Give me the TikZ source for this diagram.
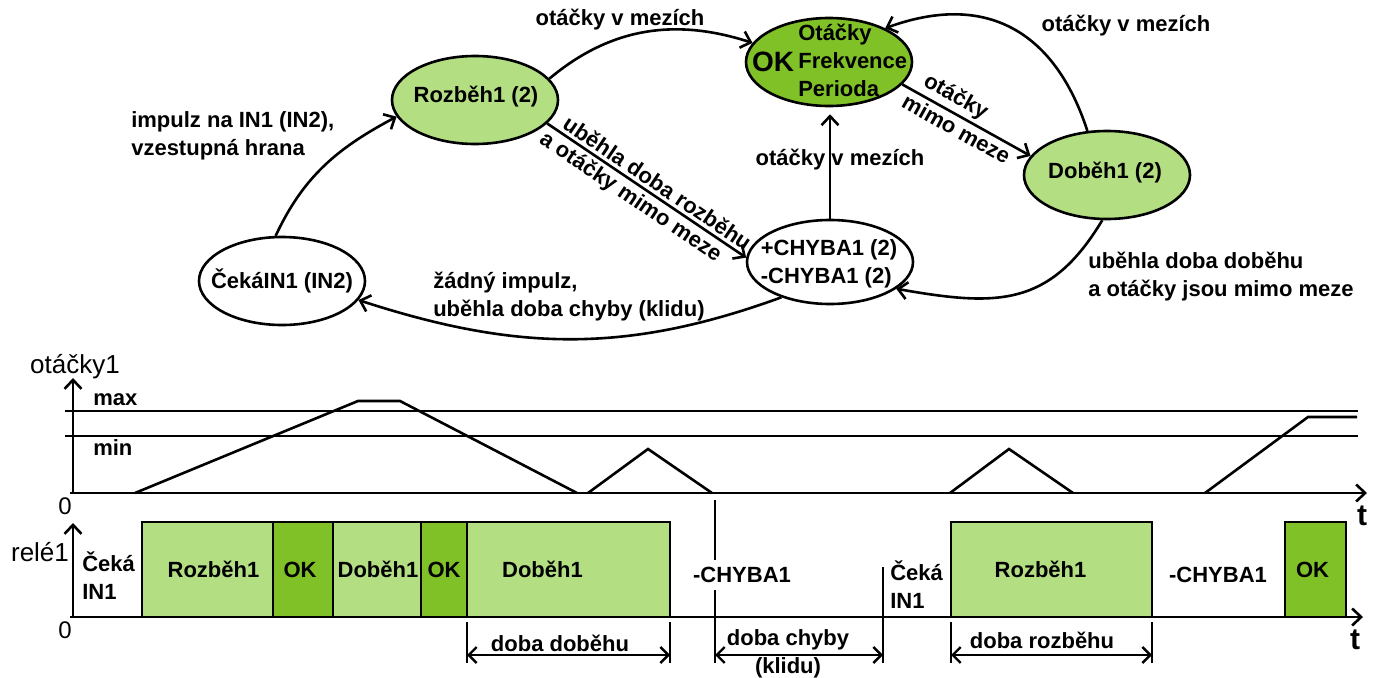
\documentclass[tikz,border=0pt]{standalone}
\usepackage{fontspec}
\setmainfont{Liberation Sans}
\usetikzlibrary{positioning,shapes.geometric,arrows.meta}
\definecolor{lgreen}{RGB}{180,222,130}
\definecolor{dgreen}{RGB}{128,193,40}
\tikzset{
  state/.style={ellipse,draw,line width=2.6pt,minimum width=166pt,minimum height=88pt,inner sep=0pt},
  arr/.style={line width=2.6pt,-{Straight Barb[length=9pt,width=17pt]}},
  dimarr/.style={line width=2.4pt,{Straight Barb[length=8pt,width=16pt]}-{Straight Barb[length=8pt,width=16pt]}},
  txt/.style={font=\fontsize{22}{28}\selectfont\bfseries,inner sep=0pt,align=left},
  axlbl/.style={font=\fontsize{26}{28}\selectfont,inner sep=0pt},
}

\begin{document}
\begin{tikzpicture}[x=1pt,y=1pt,line width=2.6pt]
  \useasboundingbox (0,0) rectangle (1383,-677);

  % States
  \node[state] (cek) at (282,-281) {};
  \node[state,fill=lgreen] (roz) at (475,-100) {};
  \node[state,fill=dgreen] (ok) at (829,-62) {};
  \node[state,minimum height=84pt] (chy) at (830,-262) {};
  \node[state,fill=lgreen] (dob) at (1107,-175) {};
  \node[txt] (cekt) at (cek) {ČekáIN1 (IN2)};
  \node[txt] (rozt) at (476,-97) {Rozběh1 (2)};
  \node[txt,font=\fontsize{28}{30}\selectfont\bfseries] (okt) at (773,-62) {OK};
  \node[txt,anchor=west] (okinfo) at (797,-60) {Otáčky\\Frekvence\\Perioda};
  \node[txt] (chyt) at (829,-264) {+CHYBA1 (2)\\-CHYBA1 (2)};
  \node[txt] (dobt) at (1105,-173) {Doběh1 (2)};

  % Transitions
  \draw[arr] (cek.98) to[out=65,in=208] (roz.192);
  \draw[arr] (roz.16) to[out=40,in=162] (ok.166);
  \draw[arr] (roz.342) --
    node[txt,sloped,above=3pt,pos=0.52] (l3a) {uběhla doba rozběhu}
    node[txt,sloped,below=3pt,pos=0.46] (l3b) {a otáčky mimo meze}
    (chy.177);
  \draw[arr,shorten >=7pt] (chy.north) -- (chy.north |- ok.south);
  \draw[arr] (ok.343) --
    node[txt,sloped,above=3pt,pos=0.36] (l5a) {otáčky}
    node[txt,sloped,below=3pt,pos=0.47] (l5b) {mimo meze}
    (dob.166);
  \draw[arr] (dob.114) to[out=108,in=20,looseness=1.2] (ok.31);
  \draw[arr] (dob.264) to[out=239,in=350,looseness=1.2] (chy.338);
  \draw[arr] (chy.216) to[out=200,in=342] (cek.346);

  % Transition labels
  \node[txt,anchor=west] (l1) at (130,-136) {impulz na IN1 (IN2),\\vzestupná hrana};
  \node[txt] (l2) at (620,-20) {otáčky v mezích};
  \node[txt] (l4) at (840,-160) {otáčky v mezích};
  \node[txt] (l6) at (1126,-26) {otáčky v mezích};
  \node[txt,anchor=west] (l7) at (1087,-277) {uběhla doba doběhu\\a otáčky jsou mimo meze};
  \node[txt,anchor=west] (l8) at (432,-297) {žádný impulz,\\uběhla doba chyby (klidu)};

  % Speed chart
  \draw[arr] (73,-493) -- (73,-378);
  \draw[arr] (70,-493) -- (1367,-493);
  \draw (65,-411) -- (1358,-411)
        (65,-436) -- (1358,-436);
  \draw (135,-493) -- (358,-401) -- (400,-401) -- (577,-493)
        (588,-493) -- (648,-449) -- (712,-493)
        (950,-493) -- (1009,-449) -- (1073,-493)
        (1205,-493) -- (1308,-417) -- (1357,-417);
  \node[axlbl] (otl) at (75,-367) {otáčky1};
  \node[txt,anchor=west] (maxl) at (92,-400) {max};
  \node[txt,anchor=west] (minl) at (92,-448) {min};
  \node[axlbl,font=\fontsize{24}{24}\selectfont] (zero1) at (65,-506) {0};
  \node[txt,font=\fontsize{30}{30}\selectfont\bfseries] (t1) at (1362,-516) {t};

  % Relay chart
  \foreach \xa/\xb/\col/\txt/\dx in {142/273/lgreen/Rozběh1/6, 273/333/dgreen/OK/-3,
      333/421/lgreen/Doběh1/1, 421/467/dgreen/OK/0, 467/670/lgreen/Doběh1/-26,
      951/1152/lgreen/Rozběh1/-11, 1285/1346/dgreen/OK/-3}
    \draw[fill=\col] (\xa,-617) rectangle (\xb,-522)
      node[txt,midway,xshift=\dx] (box\xa) {\txt};
  \draw[arr] (73,-617) -- (73,-523);
  \draw[arr] (70,-617) -- (1363,-617);
  \node[axlbl] (rell) at (40,-552) {relé1};
  \node[axlbl,font=\fontsize{24}{24}\selectfont] (zero2) at (65,-630) {0};
  \node[txt,font=\fontsize{30}{30}\selectfont\bfseries] (t2) at (1355,-640) {t};
  \node[txt,anchor=west] (cek1) at (81,-576) {Čeká\\IN1};
  \draw (715,-500) -- (715,-663)
        (883,-567) -- (883,-663);
  \node[txt,fill=white,inner xsep=1pt,inner ysep=7pt] (chyb1) at (742,-575) {-CHYBA1};
  \node[txt,anchor=west] (cek2) at (889,-585) {Čeká\\IN1};
  \node[txt] (chyb2) at (1218,-575) {-CHYBA1};

  % Time spans
  \draw (467,-622) -- (467,-663)
        (670,-622) -- (670,-663)
        (951,-622) -- (951,-663)
        (1152,-622) -- (1152,-663);
  \draw[dimarr] (467,-655) -- (670,-655);
  \draw[dimarr] (715,-655) -- (883,-655);
  \draw[dimarr] (951,-655) -- (1152,-655);
  \node[txt] (dd) at (560,-643) {doba doběhu};
  \node[txt,align=center] (dc) at (788,-654) {doba chyby\\(klidu)};
  \node[txt] (dr) at (1042,-640) {doba rozběhu};

\end{tikzpicture}
\end{document}
